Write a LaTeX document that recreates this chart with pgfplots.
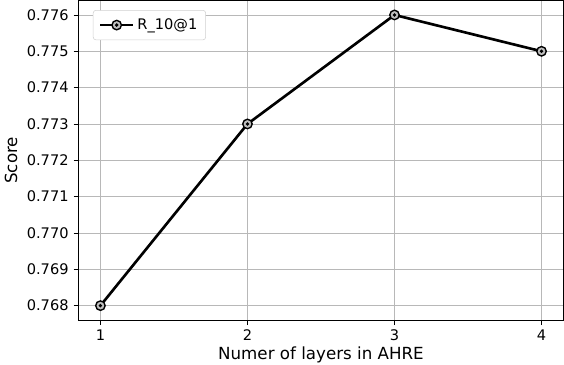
\documentclass[border=0pt]{standalone}
\usepackage{fontspec}
\setmainfont{DejaVu Sans}
\usepackage{pgfplots}
\pgfplotsset{compat=1.18}
% ring with a dot in the middle, like the reference markers
\pgfdeclareplotmark{odot}{%
  \pgfpathcircle{\pgfpointorigin}{\pgfplotmarksize}
  \pgfsetfillcolor{black!25}
  \pgfusepathqfillstroke
  \pgfpathcircle{\pgfpointorigin}{0.4\pgfplotmarksize}
  \pgfsetfillcolor{black}
  \pgfusepathqfill
}
\begin{document}
\begin{tikzpicture}
\begin{axis}[
    width=349pt, height=230pt, scale only axis,
    xmin=0.85, xmax=4.15,
    ymin=0.7676, ymax=0.7764,
    xtick={1,2,3,4},
    ytick={0.768,0.769,0.770,0.771,0.772,0.773,0.774,0.775,0.776},
    yticklabel style={/pgf/number format/.cd, fixed, fixed zerofill, precision=3},
    /pgf/number format/assume math mode=true,
    scaled y ticks=false,
    tick label style={font=\fontsize{10.5}{12}\selectfont},
    label style={font=\fontsize{12}{14}\selectfont},
    xlabel={Numer of layers in AHRE},
    xlabel style={inner ysep=1pt},
    ylabel={Score},
    grid=major,
    grid style={color=black!28, line width=0.6pt},
    axis line style={line width=0.6pt},
    tick align=outside, tick pos=left,
    major tick length=3.5pt,
    every tick/.style={black, line width=0.6pt},
    legend pos=north west,
    legend style={draw=black!18, rounded corners=2pt, font=\fontsize{10.5}{12}\selectfont,
        inner xsep=4pt, inner ysep=4pt},
    legend cell align=left,
    legend image code/.code={
        \draw[#1, mark repeat=2, mark phase=2] plot coordinates {(0cm,0cm) (0.42cm,0cm) (0.84cm,0cm)};
    },
    ]
    \addplot[black, line width=1.9pt, mark=odot, mark size=3.4pt,
        mark options={line width=1pt}] coordinates {
        (1,0.768) (2,0.773) (3,0.776) (4,0.775)
    };
    \legend{R\_10@1}
\end{axis}
\end{tikzpicture}
\end{document}
